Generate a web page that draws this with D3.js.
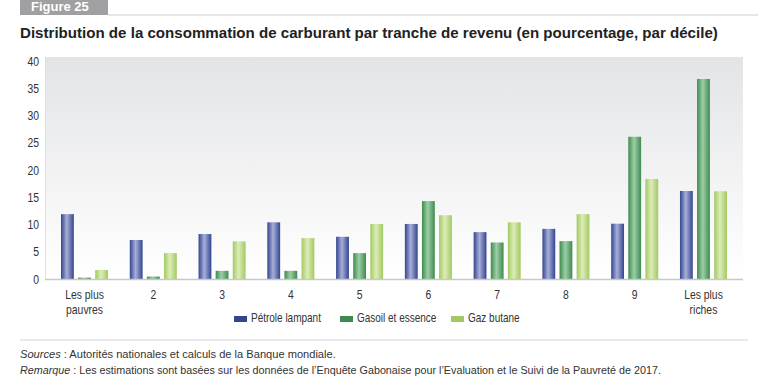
<!DOCTYPE html>
<html><head><meta charset="utf-8">
<script src="https://cdn.jsdelivr.net/npm/d3@7"></script>
<style>
body{margin:0;background:#fff;}
svg{display:block;}
</style></head>
<body>
<svg id="c" width="758" height="380"></svg>
<script>
const categories = ["Les plus pauvres","2","3","4","5","6","7","8","9","Les plus riches"];
const seriesNames = ["Pétrole lampant","Gasoil et essence","Gaz butane"];
const petrole = [11.9, 7.15, 8.25, 10.4, 7.75, 10.1, 8.6, 9.2, 10.15, 16.15];
const gasoil  = [0.25, 0.45, 1.5, 1.5, 4.75, 14.3, 6.7, 6.95, 26.1, 36.7];
const butane  = [1.65, 4.75, 6.9, 7.5, 10.1, 11.7, 10.4, 11.9, 18.35, 16.1];
const yTicks = [0,5,10,15,20,25,30,35,40];

(function(){
const svg = d3.select("#c");
const font = "'Liberation Sans',Arial,sans-serif";
const SX = 0.8;
const defs = svg.append("defs");

function ctext(parent, x, y, anchor, size, sx){
  return parent.append("text")
    .attr("transform", `translate(${x},${y}) scale(${sx||SX},1)`)
    .attr("text-anchor", anchor)
    .attr("font-family", font).attr("font-size", size).attr("fill", "#333");
}

const bg = defs.append("linearGradient").attr("id","bg").attr("x1",0).attr("y1",0).attr("x2",0).attr("y2",1);
bg.append("stop").attr("offset","0%").attr("stop-color","#e3e4e6");
bg.append("stop").attr("offset","100%").attr("stop-color","#ffffff");

const barColors = [
  {edge:"#34458f", mid:"#a7afd9"},
  {edge:"#3f8a50", mid:"#9ccfa5"},
  {edge:"#a3c865", mid:"#dcedb5"}
];
barColors.forEach((c,i)=>{
  const g = defs.append("linearGradient").attr("id","g"+i).attr("x1",0).attr("y1",0).attr("x2",1).attr("y2",0);
  g.append("stop").attr("offset","0%").attr("stop-color",c.edge);
  g.append("stop").attr("offset","45%").attr("stop-color",c.mid);
  g.append("stop").attr("offset","100%").attr("stop-color",c.edge);
});

svg.append("rect").attr("x",20).attr("y",0).attr("width",88).attr("height",15).attr("fill","#a0a0a2");
svg.append("text").attr("x",31).attr("y",11).attr("fill","#fff").attr("font-family",font)
  .attr("font-weight","bold").attr("font-size",13).text("Figure 25");
svg.append("line").attr("x1",108).attr("x2",758).attr("y1",15).attr("y2",15).attr("stroke","#d0d0d0").attr("stroke-width",1);

svg.append("text").attr("x",20).attr("y",38).attr("fill","#222")
  .attr("font-family",font).attr("font-weight","bold").attr("font-size",15.1)
  .text("Distribution de la consommation de carburant par tranche de revenu (en pourcentage, par décile)");

const pl = 45, pr = 743, pt = 61, pb = 279;
const x = d3.scaleBand().domain(categories).range([pl+16, pr-16]).paddingInner(0.316).paddingOuter(0);
const x1 = d3.scaleBand().domain(d3.range(3)).range([0, x.bandwidth()]).paddingInner(0.25);
const y = d3.scaleLinear().domain([0,40]).range([pb, pt]);

svg.append("rect").attr("x",pl).attr("y",pt-4).attr("width",pr-pl).attr("height",pb-pt+4).attr("fill","url(#bg)");
svg.append("line").attr("x1",pl+0.5).attr("x2",pl+0.5).attr("y1",pt-4).attr("y2",pb).attr("stroke","#e0e0e0");

const series = [petrole, gasoil, butane];
const g = svg.append("g");
categories.forEach((cat,i)=>{
  series.forEach((s,j)=>{
    g.append("rect")
      .attr("x", x(cat)+x1(j))
      .attr("y", y(s[i]))
      .attr("width", x1.bandwidth())
      .attr("height", y(0)-y(s[i]))
      .attr("fill","url(#g"+j+")");
  });
});

const yAxis = svg.append("g").attr("transform",`translate(${pl},0)`)
  .call(d3.axisLeft(y).tickValues(yTicks).tickSize(0).tickPadding(6));
yAxis.select(".domain").remove();
yAxis.selectAll(".tick text")
  .attr("font-family",font).attr("font-size",13).attr("fill","#333")
  .attr("transform",`translate(-6,0) scale(${SX},1)`).attr("x",0);

svg.append("line").attr("x1",pl).attr("x2",pr).attr("y1",pb+0.5).attr("y2",pb+0.5).attr("stroke","#c8c8c8").attr("stroke-width",1.5);

categories.forEach(cat=>{
  const cx = x(cat)+x.bandwidth()/2;
  if (cat.startsWith("Les plus")) {
    ctext(svg, cx, 299, "middle", 13).text("Les plus");
    ctext(svg, cx, 314, "middle", 13).text(cat.replace("Les plus ",""));
  } else ctext(svg, cx, 299, "middle", 13).text(cat);
});

const legX = [234, 340, 451];
seriesNames.forEach((n,j)=>{
  svg.append("rect").attr("x",legX[j]).attr("y",316).attr("width",13).attr("height",6).attr("fill",barColors[j].edge);
  ctext(svg, legX[j]+17, 322, "start", 12.5).text(n);
});

svg.append("line").attr("x1",20).attr("x2",748).attr("y1",340).attr("y2",340).attr("stroke","#d4d4d4");

const n1 = ctext(svg, 20, 358, "start", 11.1, 1);
n1.append("tspan").attr("font-style","italic").text("Sources");
n1.append("tspan").text(" : Autorités nationales et calculs de la Banque mondiale.");
const n2 = ctext(svg, 20, 374, "start", 11.1, 0.97);
n2.append("tspan").attr("font-style","italic").text("Remarque");
n2.append("tspan").text(" : Les estimations sont basées sur les données de l’Enquête Gabonaise pour l’Evaluation et le Suivi de la Pauvreté de 2017.");
})();
</script>
</body></html>
